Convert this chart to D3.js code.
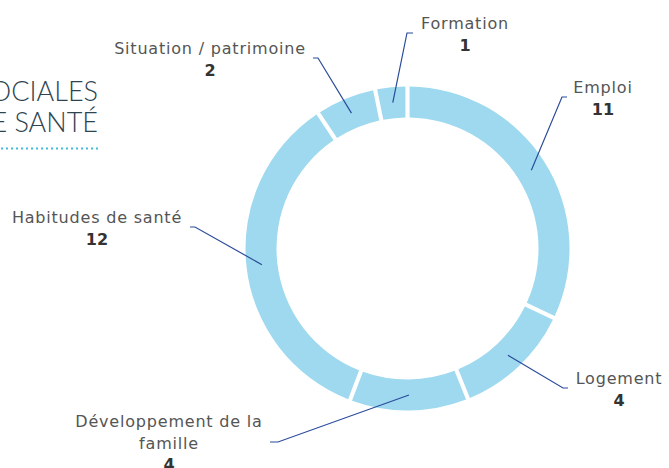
<!DOCTYPE html>
<html>
<head>
<meta charset="utf-8">
<script src="https://cdn.jsdelivr.net/npm/d3@7"></script>
<style>
  html, body { margin: 0; padding: 0; background: #fff; }
  svg { display: block; }
</style>
</head>
<body>
<svg id="chart" width="669" height="468"></svg>
<script>
'use strict';

// Chart values, clockwise from the top
const categories = ['Emploi', 'Logement', 'Développement de la famille', 'Habitudes de santé', 'Situation / patrimoine', 'Formation'];
const values = [11, 4, 4, 12, 2, 1];

// Label lines (wrapped text) per category
const labelLines = [
    ['Emploi'],
    ['Logement'],
    ['Développement de la', 'famille'],
    ['Habitudes de santé'],
    ['Situation / patrimoine'],
    ['Formation']
];

const headingLines = ['CONDITIONS SOCIALES', 'ET DE SANTÉ'];

// Layout: elbow of the connector, label centre and first baseline
const labelLayout = [
    {ex: 562, ey: 97,  hx: 567, tx: 603, ty: 93},
    {ex: 563, ey: 388, hx: 568, tx: 619, ty: 384},
    {ex: 278, ey: 442, hx: 270, tx: 169, ty: 427},
    {ex: 195, ey: 227, hx: 190, tx: 97,  ty: 223},
    {ex: 318, ey: 58,  hx: 313, tx: 210, ty: 54},
    {ex: 407, ey: 33,  hx: 413, tx: 465, ty: 29}
];

const cx = 407.5;
const cy = 248.5;
const outerR = 162;
const innerR = 131;
const lineH = 21.5;

const svg = d3.select('#chart');

// Heading, partly cut off on the left
const heading = svg.append('g');
heading.selectAll('text')
    .data(headingLines)
    .enter()
    .append('text')
    .attr('x', 98)
    .attr('y', (d, i) => 101 + i * 31)
    .attr('text-anchor', 'end')
    .attr('font-family', 'Lato, "Open Sans", sans-serif')
    .attr('font-weight', 300)
    .attr('font-size', 27)
    .attr('fill', '#2c4450')
    .text((d) => d);

heading.append('line')
    .attr('x1', 1)
    .attr('x2', 99)
    .attr('y1', 148.5)
    .attr('y2', 148.5)
    .attr('stroke', '#3fbde0')
    .attr('stroke-width', 2)
    .attr('stroke-dasharray', '2 3');

// Donut
const pie = d3.pie().sort(null).padAngle(0.02);
const arcs = pie(values);
const arc = d3.arc().innerRadius(innerR).outerRadius(outerR);
const midArc = d3.arc().innerRadius((innerR + outerR) / 2).outerRadius((innerR + outerR) / 2);

const ring = svg.append('g').attr('transform', `translate(${cx}, ${cy})`);

ring.selectAll('path')
    .data(arcs)
    .enter()
    .append('path')
    .attr('d', arc)
    .attr('fill', '#9ed9ef');

// Connectors
svg.append('g')
    .selectAll('polyline')
    .data(arcs)
    .enter()
    .append('polyline')
    .attr('points', (d, i) => {
        let c = midArc.centroid(d);
        let l = labelLayout[i];
        return `${cx + c[0]},${cy + c[1]} ${l.ex},${l.ey} ${l.hx},${l.ey}`;
    })
    .attr('fill', 'none')
    .attr('stroke', '#2b4c9b')
    .attr('stroke-width', 1.2);

// Labels
const labels = svg.append('g')
    .attr('font-family', '"DejaVu Sans", sans-serif')
    .attr('text-anchor', 'middle');

categories.forEach((cat, i) => {
    let l = labelLayout[i];
    let g = labels.append('g');
    labelLines[i].forEach((line, j) => {
        g.append('text')
            .attr('x', l.tx)
            .attr('y', l.ty + j * lineH)
            .attr('font-size', 16)
            .attr('letter-spacing', 0.8)
            .attr('fill', '#555')
            .text(line);
    });
    g.append('text')
        .attr('x', l.tx)
        .attr('y', l.ty + labelLines[i].length * lineH)
        .attr('font-size', 16)
        .attr('font-weight', 'bold')
        .attr('fill', '#333')
        .text(values[i]);
});
</script>
</body>
</html>
